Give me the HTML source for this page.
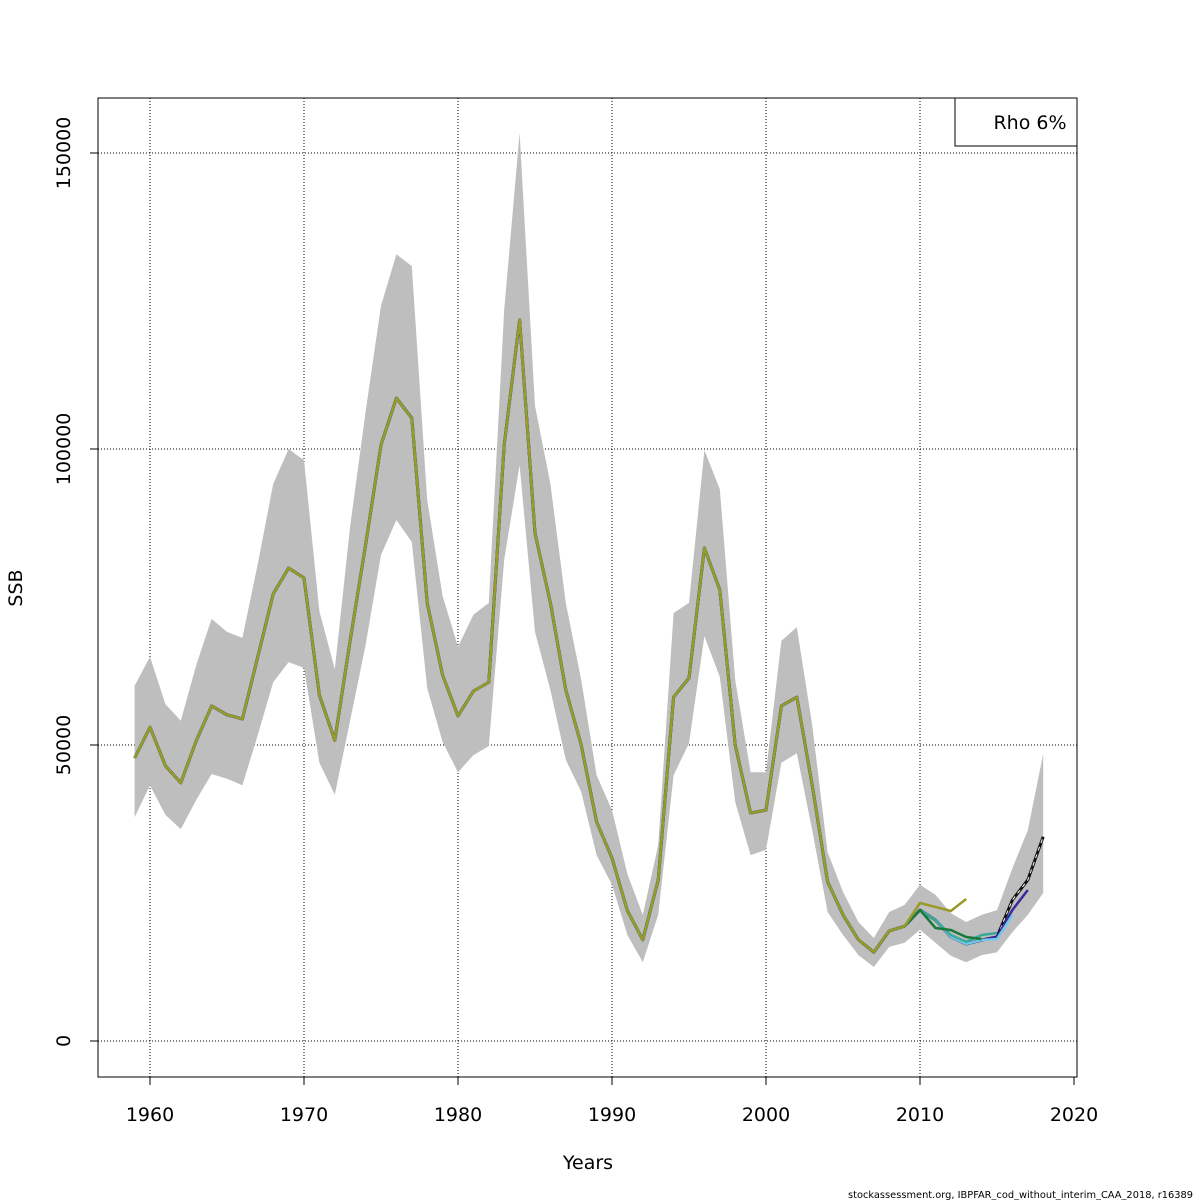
<!DOCTYPE html>
<html><head><meta charset="utf-8"><style>
body{margin:0;background:#fff}
svg{display:block;font-family:"DejaVu Sans","Liberation Sans",sans-serif}
</style></head><body>
<svg id="c" width="1200" height="1200" xmlns="http://www.w3.org/2000/svg">
<rect width="1200" height="1200" fill="#fff"/>
<g id="grid"></g>
<g id="band"></g>
<g id="lines"></g>
<g id="axes"></g>
<rect x="98" y="98" width="979" height="979" fill="none" stroke="#000"/>
<g>
<rect x="955" y="98" width="122" height="48" fill="#fff" stroke="#000"/>
<text x="1030" y="129" font-size="19" text-anchor="middle">Rho 6%</text>
</g>
<text x="588" y="1169" font-size="19" text-anchor="middle">Years</text>
<text transform="translate(22,588) rotate(-90)" font-size="19" text-anchor="middle">SSB</text>
<text x="1193" y="1198" font-size="10" textLength="345" lengthAdjust="spacingAndGlyphs" text-anchor="end">stockassessment.org, IBPFAR_cod_without_interim_CAA_2018, r16389</text>
</svg>
<script>
const startYear = 1959;
const history = [47800,53000,46500,43600,50700,56600,55100,54400,64900,75500,79900,78200,58400,50800,67700,83800,100700,108600,105200,74000,61800,54900,59100,60600,100700,121800,85800,74000,59300,50000,37000,30900,22000,17100,27200,58100,61300,83300,76200,50000,38500,39000,56600,58100,43200,26900,21300,17100,15000,18600,19400];
const finalTail = [22130,20440,17620,16390,17060,17570,23820,27200,34510];
const peel1Tail = [22130,20440,17620,16390,17060,17570,22130,25500];
const peel2Tail = [22130,20440,17620,16390,17060,17230,21280];
const peel3Tail = [22130,20440,17900,16770,17900,18240];
const peel4Tail = [22130,19090,18750,17570,17230];
const peel5Tail = [23310,22640,21960,23990];
const upper = [60000,64900,56900,54100,63500,71300,69100,68100,80600,94100,100000,98100,72600,62800,87000,106300,124200,132900,130900,91400,75200,66600,72000,74000,123500,153400,107300,94100,74000,61000,44900,39000,28200,21300,33100,72300,74000,99800,93200,61000,45400,45400,67600,69900,53400,31900,25200,20100,17400,21800,23000,26400,24700,21600,20100,21300,22100,29200,35600,48500];
const lower = [37800,43200,38200,35800,40700,45100,44300,43200,51700,60600,64000,63000,47000,41600,54200,66900,82100,88000,84300,59600,50500,45400,48300,49800,81300,97300,69100,59300,47500,42100,31400,26400,17900,13300,21300,44900,50300,68400,61500,40400,31400,32300,47000,48600,35600,21800,17900,14500,12500,15900,16600,18800,16600,14400,13300,14500,15000,18400,21300,25000];
const xTicks = [1960,1970,1980,1990,2000,2010,2020];
const yTicks = [0,50000,100000,150000];

const NS="http://www.w3.org/2000/svg";
const X = y => 150 + (y-1960)*15.4;
const Y = v => 1041 - v*296/50000;
function mk(tag, parent, attrs){const e=document.createElementNS(NS,tag);for(const k in attrs)e.setAttribute(k,attrs[k]);parent.appendChild(e);return e;}
const grid=document.getElementById('grid'), axes=document.getElementById('axes');
xTicks.forEach(t=>{
  if(t<2020){const g=mk('line',grid,{x1:X(t),x2:X(t),y1:98,y2:1077,stroke:'#000','stroke-dasharray':'1,2','stroke-width':1});
  
  }
  const tk=mk('line',axes,{x1:X(t),x2:X(t),y1:1077,y2:1085,stroke:'#000'});
  
  
  const tx=mk('text',axes,{x:X(t),y:1121,'font-size':19,'text-anchor':'middle'});tx.textContent=t;
  
  
});
yTicks.forEach(t=>{
  const g=mk('line',grid,{x1:98,x2:1077,y1:Y(t),y2:Y(t),stroke:'#000','stroke-dasharray':'1,2','stroke-width':1});
  
  
  const tk=mk('line',axes,{x1:90,x2:98,y1:Y(t),y2:Y(t),stroke:'#000'});
  
  
  const tx=mk('text',axes,{transform:`translate(70,${Y(t)}) rotate(-90)`,'font-size':19,'text-anchor':'middle'});tx.textContent=t;
  
  
});
let pts=upper.map((v,i)=>X(startYear+i)+','+Y(v));
for(let i=lower.length-1;i>=0;i--)pts.push(X(startYear+i)+','+Y(lower[i]));
const band=mk('polygon',document.getElementById('band'),{points:pts.join(' '),fill:'#bebebe'});


const lines=document.getElementById('lines');
function series(tail){return history.concat(tail);}
function path(vals){return vals.map((v,i)=>(i?'L':'M')+X(startYear+i)+','+Y(v)).join(' ');}
const fin=mk('path',lines,{d:path(series(finalTail)),fill:'none',stroke:'#111','stroke-width':3,'stroke-linejoin':'round'});


const finD=mk('path',lines,{d:path(series(finalTail)),fill:'none',stroke:'#fff','stroke-width':1,'stroke-dasharray':'4,4'});


const defs=[[peel1Tail,'#3a28a0','peel-1-line'],[peel2Tail,'#70c8ee','peel-2-line'],[peel3Tail,'#3aaa98','peel-3-line'],[peel4Tail,'#187a3c','peel-4-line'],[peel5Tail,'#9a9a28','peel-5-line']];
defs.forEach(d=>{
  const p=mk('path',lines,{d:path(series(d[0])),fill:'none',stroke:d[1],'stroke-width':2.5,'stroke-linejoin':'round'});
  
  
});
</script>
</body></html>
